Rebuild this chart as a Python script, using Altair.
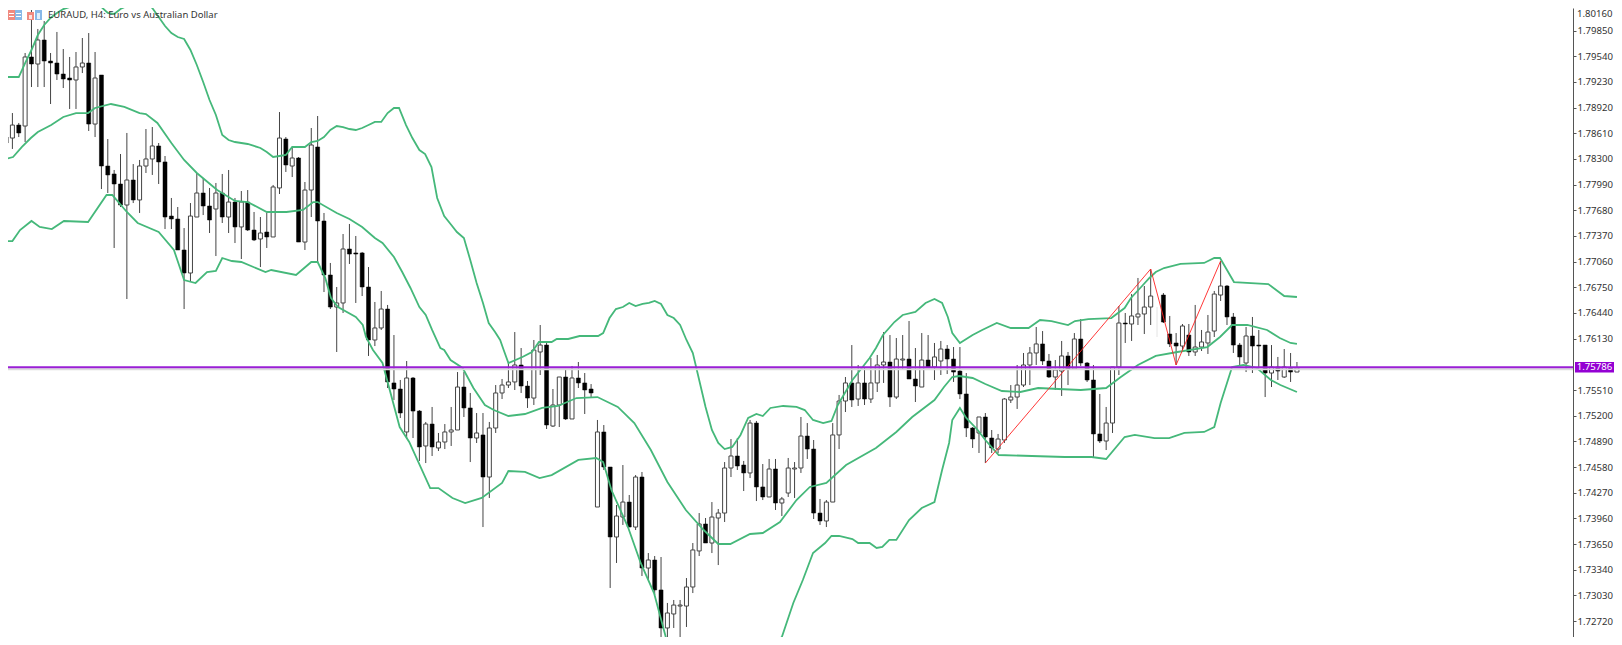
import altair as alt
import pandas as pd

# OHLC of EURAUD H4, in points (price x 100000)
direction = ("WWBWBWBBBB" "BWWBWBBBBW" "BWWWBBBBBW" "WBBWBWBWBB" "WBWWBWBWWB"
             "BBWWBBBBWW" "BBBWBBWBWW" "WWBBWBWWWW" "WBBWWBWWBW" "BBBWBBWWBW"
             "BWBBWWWWWW" "BWWWWBBWBB" "WBWWWWBBBW" "WWWBWBWWWB" "WWBBWBWWBB"
             "BBBWBBWWWW" "WWWBBWWBWB" "BBBWWWBWWW" "WFBBBWBWWW" "WWBBBWBBBW"
             "BWBW")
high = [178650,178855,178735,179580,180099,179870,179966,179580,179834,179628,
179532,179592,179761,179821,179592,179314,178541,178167,178360,178614,
178239,178288,178662,178686,178493,178336,177829,177720,177466,177768,
178131,178070,177950,178010,178119,178167,177829,177913,177925,177660,
177599,177648,177986,178867,178565,178445,178324,178022,178674,178819,
177648,177044,176754,177394,177515,177370,177177,176995,176573,176706,
176537,176174,175631,175860,175667,175268,175124,175305,174991,175099,
175305,175727,175727,175474,175232,175232,175124,175570,175643,175848,
176210,176017,175619,176114,176295,176078,175522,175667,175764,175800,
175848,175715,175582,175148,175087,174580,174121,174604,174242,174483,
174520,173541,173505,173493,172938,172974,172974,173239,173662,174024,
173964,174157,174073,174640,174918,174930,174653,175148,175136,174616,
174677,174677,174218,174689,174640,175184,175111,174906,174194,174181,
175111,175450,175667,176053,175812,175788,175896,175933,176210,176174,
176138,176174,176343,176017,176198,176174,176078,176102,176053,176029,
176029,175715,175063,175184,175232,175027,174979,175413,175570,175812,
175957,176029,176271,176222,175945,175872,176102,175969,176198,176367,
175848,175812,175462,175305,175788,176524,176440,176669,176863,176766,
176971,176512,176681,176404,176198,176307,176307,176537,176235,176416,
176706,177068,176778,176440,176078,176271,176392,176235,176053,176053,
175909,176005,175957,175848]
body_top = [178565,178710,178710,179532,179532,179737,179737,179483,179459,179326,
179278,179411,179459,179459,179278,179314,178215,178119,177998,178046,
178046,178215,178300,178457,178457,178264,177611,177575,177201,177611,
177889,177889,177732,177889,177889,177780,177780,177780,177780,177442,
177406,177418,177962,178553,178541,178312,178312,177925,178469,178445,
177551,176899,176561,177213,177213,177165,177165,176754,176259,176488,
176488,175595,175522,175655,175655,175256,175099,175099,174882,175003,
175027,175546,175546,175293,174991,174967,175051,175474,175570,175607,
175812,175812,175558,175993,176053,176053,175329,175667,175667,175655,
175655,175595,175522,175003,175003,174580,173988,174157,174157,174459,
174459,173457,173457,173095,172817,172913,172913,173131,173578,173892,
173892,173976,174024,174568,174713,174713,174604,175111,175111,174339,
174556,174556,174194,174568,174568,174954,174954,174797,174024,174157,
174967,175377,175595,175595,175595,175595,175595,175812,175848,175848,
175884,175884,175884,175643,175872,175872,175909,176005,176005,175884,
175739,175462,175051,175184,175184,174930,174918,175401,175425,175570,
175812,175957,176066,176066,175860,175752,175921,175921,176126,176126,
175836,175631,174979,175111,175788,176319,176319,176404,176428,176512,
176645,176331,176657,176186,176078,176283,176174,176029,176090,176210,
176669,176766,176766,176392,176053,176162,176162,176053,176053,175788,
175788,175788,175776,175776]
body_bottom = [178493,178553,178614,178698,179447,179447,179483,179459,179326,179266,
179254,179254,179411,178722,178722,178215,178107,177998,177744,177744,
177805,177805,178215,178300,178264,177599,177575,177201,176923,176923,
177599,177732,177563,177696,177599,177599,177479,177479,177442,177322,
177334,177358,177358,177950,178227,178215,177297,177297,177925,177551,
176899,176512,176512,176561,177152,177152,176754,176114,176114,176259,
175607,175522,175232,175003,175256,174822,174834,174822,174810,174882,
175003,175027,175293,174930,174930,174459,174459,175051,175474,175570,
175607,175558,175413,175413,175969,175087,175075,175329,175160,175160,
175595,175510,175474,174097,174580,173735,173735,173976,173855,173855,
173360,173360,173095,172636,172636,172805,172901,172901,173131,173566,
173662,173662,173964,174024,174568,174592,174508,174508,174339,174218,
174218,174145,174145,174266,174556,174568,174797,174024,173928,173928,
174157,174967,175377,175389,175401,175401,175401,175595,175812,175425,
175425,175872,175643,175558,175546,175788,175788,175860,175884,175727,
175462,175051,174918,174991,174942,174810,174797,174906,175389,175425,
175570,175812,175957,175860,175667,175667,175739,175764,175764,175836,
175631,174979,174894,174894,175111,175788,176307,176307,176392,176428,
176512,176331,176331,176066,176041,176041,175969,175969,176029,176078,
176222,176657,176392,176053,175909,175836,176041,176041,175715,175715,
175739,175667,175727,175727]
low = [178408,178421,178565,178505,179169,179169,179169,178964,179254,179157,
178904,178904,179338,178638,178565,177937,177889,177225,177720,176609,
177768,177648,178131,178107,177998,177454,177454,177201,176488,176826,
177599,177623,177406,177128,177527,177406,177285,177092,177430,177309,
176995,177225,177358,177877,178143,178082,177297,177201,177599,177044,
176693,176488,175969,176440,177032,176561,176645,175921,176041,176235,
175534,175389,175172,174918,174930,174653,174628,174713,174773,174797,
174834,175027,175184,174640,174870,173855,174206,174991,175401,175534,
175510,175474,175293,175329,175691,175039,175063,175063,175148,175160,
175534,175220,175425,174097,174544,173119,173421,173880,173855,173819,
173264,173215,173034,172527,172527,172636,172467,172648,173058,173505,
173662,173541,173396,173916,174459,174544,174290,174447,174169,174181,
174218,174061,173988,174218,174206,174508,174677,173952,173880,173855,
174157,174797,175244,175305,175317,175329,175353,175486,175595,175305,
175401,175764,175643,175365,175546,175776,175631,175691,175703,175607,
175401,174942,174810,174749,174628,174749,174749,174870,175353,175281,
175546,175570,175812,175812,175655,175510,175438,175570,175752,175800,
175607,174701,174870,174785,174991,175691,176078,176102,176295,176186,
176295,176150,176319,176029,175812,175993,175921,175921,175981,175945,
176150,176585,176295,175957,175800,175727,175715,175752,175425,175546,
175631,175655,175607,175727]

# Bollinger bands: bar position and value in points
upper_pos = [0,2,3,4,5,6,7,8,9,10,11,12,13,14,15,16,17,18,19,20,21,22,23,24,25,26,27,28,29,30,
31,32,33,34,35,36,37,38,39,40,41,42,43,44,45,46,47,48,49,50,51,52,53,54,55,56,57,58,59,60,
61,61.8,62.9,63.9,65,65.9,66.9,67.8,68.9,69.9,70.9,72,73,74,75,75.9,76.9,77.7,78.2,79,
81.2,82.7,83.8,85.8,86.6,88.4,90.2,93.1,93.9,94.9,95.9,97,98,99,100.1,101.1,102,103,104,105,
106,107,108,109,110,111,112,113,114.2,115.5,116.7,118,119,120.2,122.2,124.3,125.6,126.9,128.5,129.8,
130.8,132,133.1,134.7,135.8,136.8,137.9,139.7,141,143,144.6,146,147.2,148.1,148.8,150,152,153.5,155.8,158,
160.8,162.6,164.4,167,168.1,170.2,173.8,175.9,176.9,178.5,179.8,180.8,182.1,184.7,188.4,190,190.9,192,193.1,198.5,201,203]
upper_val = [179290,179290,179459,179616,179797,179918,180003,180063,180111,180135,180160,180160,180160,180160,180135,180063,180051,180111,180148,180184,180196,180196,180123,180015,179906,179821,179773,179749,179616,179435,
179230,179012,178831,178590,178529,178505,178493,178481,178457,178433,178384,178324,178336,178348,178445,178445,178445,178505,178517,178565,178650,178698,178686,178662,178650,178674,178710,178747,178747,178855,
178916,178916,178710,178553,178408,178360,178203,177829,177611,177515,177418,177346,177080,176802,176561,176319,176210,176114,176005,175836,
175909,175969,176090,176090,176126,176126,176162,176162,176198,176379,176488,176512,176561,176524,176549,176561,176585,176549,176416,176379,
176295,176114,175957,175631,175305,175027,174870,174797,174822,174967,175172,175220,175196,175293,175317,175305,175268,175148,175111,175136,
175329,175486,175631,175788,175896,176017,176174,176331,176416,176452,176561,176609,176561,176392,176198,176078,176174,176235,176319,176259,
176259,176355,176343,176295,176343,176367,176379,176500,176621,176754,176863,176935,176983,177032,177044,177104,177104,176959,176814,176790,176645,176633]

middle_pos = [0,1.1,2.5,3.9,5,7.1,9,11,12.9,14,16.5,18.6,21,22,23.8,26,28,30,33.2,36,38,41,44.1,46.7,48.3,49,52,54,56,58,59.2,
61,62.3,63.6,65,66,67,68.3,68.9,69.9,71.8,73.5,75.3,76.7,79,81.6,84.3,86.8,89.7,93,96.2,98.8,101.4,104,106.9,109.7,112,113.9,117,119,
121.7,124.3,126.4,129,132.1,136.8,140,142.5,146,147.5,148.8,149.9,152,154,156.6,159.5,162.3,165.5,169,173,175.3,178,180.8,184.2,188.9,190.9,192.8,195.2,198.3,200.3,202,203]
middle_val = [178300,178324,178445,178553,178626,178710,178807,178855,178855,178916,178964,178928,178855,178843,178735,178493,178288,178131,177925,177793,177780,177660,177660,177684,177780,177780,177648,177575,177479,177346,177285,
177116,176935,176742,176512,176416,176235,176017,175993,175872,175776,175534,175329,175268,175196,175220,175293,175317,175413,175425,175305,175111,174785,174399,174061,173819,173650,173650,173771,173783,
173916,174181,174339,174387,174604,174810,175003,175184,175389,175546,175667,175679,175655,175582,175498,175486,175534,175522,175510,175534,175667,175812,175921,175969,176029,176150,176295,176295,176235,176138,176078,176066]

lower_pos = [0,1,2.2,4,5.3,7.2,9.1,12.9,15.8,16.7,19,20.7,24,26.4,28,29.8,31.6,33,34,35.5,37,38.9,40.8,41.7,45.6,48,49,50.2,51.1,52.2,55,56.1,56.6,57.7,59.2,61.9,63.4,66.7,68,70.2,72.2,74.8,78,79,81.6,83.9,85.8,90,92.8,93.9,95.2,97.8,99.8,101.9,104,107,110,112,113.1,115,
120.6,122,123.8,125.3,126.9,128.8,129.8,131,133.1,134,135.8,136.9,137.8,138.9,140,142,144,146,147.2,148.3,148.8,150,151,152.8,154,156.1,161.3,166.5,170.7,173,175.9,177.5,180.6,182.9,185.3,188.4,190,191,192.8,194.6,196.7,198.9,200.4,203]
lower_val = [177309,177309,177442,177551,177479,177454,177551,177539,177865,177865,177660,177527,177418,177201,176838,176802,176935,176947,177104,177068,177056,176995,176935,176959,176899,177056,177056,176863,176621,176512,176392,176295,176150,175993,175836,175063,174882,174326,174326,174206,174145,174206,174387,174532,174520,174447,174483,174665,174689,174640,174302,173855,173421,173058,172454,172225,172189,172430,172491,172442,
172442,172527,172938,173215,173541,173662,173747,173747,173710,173662,173662,173602,173614,173699,173699,173940,174085,174157,174544,174870,175148,175293,175172,175027,174906,174725,174713,174701,174701,174677,174942,174967,174930,174930,174991,175003,175063,175353,175788,175812,175776,175631,175570,175486]

# Zigzag pivots: bar position and value in points
zigzag_pos = [154, 180, 184, 191]
zigzag_val = [174628, 176971, 175812, 177068]

price_ticks = [1.7985,1.7954,1.7923,1.7892,1.7861,1.7830,1.7799,1.7768,1.7737,1.7706,1.7675,
               1.7644,1.7613,1.7551,1.7520,1.7489,1.7458,1.7427,1.7396,1.7365,1.7334,1.7303,1.7272]
top_tick_label = "1.80160"
current_price = 1.75786
header = "EURAUD, H4:  Euro vs Australian Dollar"

X_DOMAIN = [1.094, 245.625]
Y_DOMAIN = [1.72527, 1.801234]
PLOT_W, PLOT_H = 1565, 629

price_axis = alt.Axis(
    orient="right", values=price_ticks, format=".5f", grid=False, title=None,
    labelFont="Noto Sans", labelFontSize=9.6, labelColor="#333333", labelPadding=1,
    tickSize=3, tickColor="#555555", domainColor="#555555", labelOverlap=False,
)

def X(field):
    return alt.X(field, type="quantitative", scale=alt.Scale(domain=X_DOMAIN, nice=False, zero=False), axis=None)

def Y(field):
    return alt.Y(field, type="quantitative", scale=alt.Scale(domain=Y_DOMAIN, nice=False, zero=False), axis=price_axis)

candles = pd.DataFrame({
    "i": range(len(high)),
    "high": [v / 1e5 for v in high],
    "low": [v / 1e5 for v in low],
    "top": [v / 1e5 for v in body_top],
    "bottom": [v / 1e5 for v in body_bottom],
    "kind": list(direction),
})
solid = candles[candles.kind != "F"]
faint = candles[candles.kind == "F"]

wicks = alt.Chart(solid).mark_rule(color="#444444", strokeWidth=1, clip=True).encode(
    x=X("i"), y=Y("high"), y2="low")
faint_wick = alt.Chart(faint).mark_rule(color="#e4e4e4", strokeWidth=1, clip=True).encode(
    x=X("i"), y=Y("high"), y2="low")
white_bodies = alt.Chart(solid[solid.kind == "W"]).mark_bar(
    size=4, fill="#ffffff", stroke="#444444", strokeWidth=1, clip=True, orient="vertical"
).encode(x=X("i"), y=Y("top"), y2="bottom")
black_bodies = alt.Chart(solid[solid.kind == "B"]).mark_bar(
    size=4, fill="#000000", stroke="#000000", strokeWidth=0.5, clip=True, orient="vertical"
).encode(x=X("i"), y=Y("top"), y2="bottom")

def band(pos, val):
    df = pd.DataFrame({"p": pos, "v": [v / 1e5 for v in val]})
    return alt.Chart(df).mark_line(color="#45B87A", strokeWidth=1.8, clip=True, interpolate="linear").encode(
        x=X("p"), y=Y("v"), order="p:Q")

zig = alt.Chart(pd.DataFrame({"p": zigzag_pos, "v": [v / 1e5 for v in zigzag_val]})).mark_line(
    color="#ff2020", strokeWidth=0.9, clip=True).encode(x=X("p"), y=Y("v"))

price_df = pd.DataFrame({"v": [current_price]})
shadow = alt.Chart(price_df).mark_rule(color="#dcdcdc", strokeWidth=2, clip=True).encode(
    y=Y("v"), yOffset=alt.value(2), x=alt.value(0), x2=alt.value(PLOT_W))
price_line = alt.Chart(price_df).mark_rule(color="#9A1FD6", strokeWidth=2, clip=True).encode(
    y=Y("v"), x=alt.value(0), x2=alt.value(PLOT_W))
price_box = alt.Chart(price_df).mark_rect(color="#9400D3").encode(
    x=alt.value(PLOT_W + 2), x2=alt.value(PLOT_W + 41), y=alt.value(354), y2=alt.value(364.5))
price_text = alt.Chart(price_df.assign(t=f"{current_price:.5f}")).mark_text(
    font="Noto Sans", fontSize=9.6, color="#ffffff", align="center", baseline="middle"
).encode(x=alt.value(PLOT_W + 21.5), y=Y("v"), text="t:N")

top_label = alt.Chart(pd.DataFrame({"t": [top_tick_label]})).mark_text(
    font="Noto Sans", fontSize=9.6, color="#333333", align="left", baseline="middle"
).encode(x=alt.value(PLOT_W + 4), y=alt.value(6), text="t:N")

head_text = alt.Chart(pd.DataFrame({"t": [header]})).mark_text(
    font="Noto Sans", fontSize=9.5, color="#333333", align="left", baseline="middle"
).encode(x=alt.value(40), y=alt.value(7), text="t:N")

# Toolbar glyphs at the top left of the window (decoration, in pixels)
icon_parts = [
    (0, 7, 2, 12, "#f08a80"), (7, 14, 2, 12, "#88b8e8"),
    (1, 6, 5, 6, "#ffffff"), (1, 6, 8, 9, "#ffffff"),
    (8, 13, 5, 6, "#ffffff"), (8, 13, 8, 9, "#ffffff"),
    (19, 26, 4, 12, "#f08a80"), (27, 34, 2, 12, "#88b8e8"),
    (21, 24, 7, 11, "#fbe3e0"), (29, 32, 5, 11, "#e0eefa"),
]
one_row = pd.DataFrame({"k": [0]})
icon_layers = [
    alt.Chart(one_row).mark_rect(color=c).encode(
        x=alt.value(x0), x2=alt.value(x1), y=alt.value(y0), y2=alt.value(y1))
    for x0, x1, y0, y1, c in icon_parts
]

chart = alt.layer(
    wicks, faint_wick, white_bodies, black_bodies,
    band(upper_pos, upper_val), band(middle_pos, middle_val), band(lower_pos, lower_val),
    zig, shadow, price_line, price_box, price_text, top_label, head_text, *icon_layers,
).properties(
    width=PLOT_W, height=PLOT_H,
    autosize=alt.AutoSizeParams(type="none"),
    padding={"left": 0, "top": 0, "right": 41, "bottom": 0},
    background="#ffffff",
).configure_view(stroke=None)

chart.save("out.html", embed_options={"renderer": "svg", "actions": False})
